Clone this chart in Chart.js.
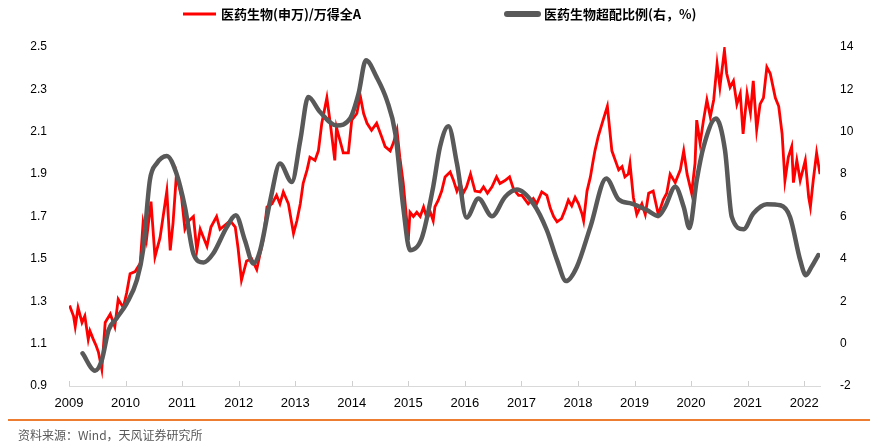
<!DOCTYPE html>
<html>
<head>
<meta charset="utf-8">
<script src="https://cdn.jsdelivr.net/npm/chart.js@4.4.1/dist/chart.umd.min.js"></script>
<style>
  body { margin: 0; background: #fff; }
  #wrap { position: relative; width: 877px; height: 448px; }
  #rule { position: absolute; left: 8px; top: 419px; width: 862px; height: 0; border-top: 2px solid #ED7D31; }
  #source { position: absolute; left: 18px; top: 426px; font: 12px "Noto Sans CJK SC", "Liberation Sans", sans-serif; color: #595959; }
</style>
</head>
<body>
<div id="wrap">
  <canvas id="chart0" width="877" height="448"></canvas>
  <div id="rule"></div>
  <div id="source">资料来源：Wind，天风证券研究所</div>
</div>
<script>
document.addEventListener("DOMContentLoaded", function() {
  // x axis years
  var yearTicks = [2009, 2010, 2011, 2012, 2013, 2014, 2015, 2016, 2017, 2018, 2019, 2020, 2021, 2022];

  // 医药生物(申万)/万得全A  (left axis)
  var ratioYears = [2009.01,2009.08,2009.11,2009.16,2009.23,2009.28,2009.34,2009.37,2009.43,2009.48,2009.52,2009.58,2009.64,2009.73,2009.81,2009.87,2009.96,
    2010.02,2010.08,2010.17,2010.26,2010.31,2010.37,2010.45,2010.52,2010.61,2010.73,2010.79,2010.84,2010.9,2010.99,
    2011.05,2011.12,2011.2,2011.26,2011.32,2011.44,2011.51,2011.61,2011.67,2011.76,2011.85,2011.94,2011.99,
    2012.05,2012.14,2012.23,2012.32,2012.44,2012.5,2012.59,2012.67,2012.73,2012.79,2012.88,2012.97,
    2013.03,2013.09,2013.14,2013.21,2013.26,2013.35,2013.41,2013.47,2013.56,2013.62,2013.7,2013.73,2013.79,2013.85,2013.94,
    2014.0,2014.09,2014.15,2014.21,2014.27,2014.35,2014.44,2014.53,2014.59,2014.68,2014.74,2014.8,2014.85,2014.91,2014.98,
    2015.0,2015.03,2015.09,2015.15,2015.21,2015.27,2015.33,2015.39,2015.44,2015.47,2015.53,2015.59,2015.65,2015.74,2015.8,2015.86,2015.92,2015.97,
    2016.03,2016.1,2016.18,2016.27,2016.33,2016.4,2016.48,2016.56,2016.62,2016.71,2016.79,2016.86,2016.95,
    2017.01,2017.12,2017.21,2017.27,2017.36,2017.45,2017.51,2017.57,2017.63,2017.71,2017.77,2017.83,2017.89,2017.95,
    2018.01,2018.07,2018.1,2018.16,2018.22,2018.26,2018.3,2018.36,2018.45,2018.52,2018.6,2018.66,2018.72,2018.78,2018.83,2018.89,2018.92,2018.98,
    2019.04,2019.13,2019.19,2019.25,2019.33,2019.42,2019.51,2019.57,2019.63,2019.72,2019.81,2019.87,2019.93,
    2020.01,2020.07,2020.1,2020.16,2020.22,2020.28,2020.34,2020.4,2020.46,2020.51,2020.59,2020.63,2020.69,2020.75,2020.81,2020.87,2020.92,2020.99,
    2021.05,2021.1,2021.16,2021.22,2021.28,2021.34,2021.4,2021.49,2021.55,2021.61,2021.66,2021.72,2021.78,2021.81,2021.87,2021.93,
    2022.02,2022.08,2022.11,2022.16,2022.22,2022.28];
  var ratioValues = [1.28,1.23,1.18,1.27,1.20,1.23,1.12,1.16,1.12,1.09,1.06,0.98,1.20,1.24,1.18,1.31,1.27,
    1.34,1.43,1.44,1.48,1.67,1.59,1.77,1.51,1.60,1.82,1.54,1.67,1.90,1.79,
    1.64,1.68,1.70,1.54,1.64,1.56,1.65,1.70,1.64,1.66,1.68,1.65,1.55,
    1.40,1.49,1.50,1.45,1.60,1.745,1.76,1.80,1.76,1.816,1.76,1.62,
    1.68,1.76,1.856,1.92,1.98,1.965,2.01,2.14,2.26,2.14,1.965,2.12,2.06,2.00,2.00,
    2.155,2.186,2.27,2.186,2.14,2.107,2.14,2.075,2.03,2.01,2.05,2.107,1.98,1.86,1.66,
    1.59,1.72,1.70,1.72,1.70,1.745,1.69,1.72,1.68,1.745,1.777,1.82,1.887,1.91,1.87,1.82,1.856,1.81,
    1.84,1.90,1.82,1.816,1.84,1.81,1.84,1.887,1.856,1.87,1.887,1.83,1.80,
    1.80,1.76,1.785,1.76,1.816,1.80,1.74,1.70,1.675,1.69,1.73,1.777,1.75,1.79,
    1.76,1.714,1.68,1.82,1.887,1.95,2.01,2.08,2.16,2.22,2.01,1.965,1.92,1.935,1.887,1.90,1.95,1.79,
    1.71,1.76,1.71,1.81,1.82,1.71,1.78,1.81,1.90,1.86,1.92,2.01,1.90,
    1.81,1.95,2.155,2.045,2.155,2.25,2.17,2.25,2.42,2.31,2.485,2.375,2.31,2.34,2.23,2.28,2.09,2.28,
    2.19,2.34,2.11,2.23,2.26,2.405,2.375,2.26,2.22,2.09,1.87,1.98,2.03,1.86,1.965,1.87,
    1.965,1.79,1.745,1.87,2.00,1.90];

  // 医药生物超配比例(右，%)  (right axis)
  var overweightYears = [2009.24,2009.46,2009.58,2009.7,2009.84,2010.02,2010.2,2010.31,2010.43,2010.55,2010.73,2010.9,
    2011.05,2011.2,2011.38,2011.55,2011.79,2011.95,2012.11,2012.26,2012.38,2012.56,2012.73,2012.94,
    2013.09,2013.23,2013.44,2013.73,2013.97,2014.12,2014.25,2014.44,2014.62,2014.77,2014.91,
    2015.03,2015.24,2015.44,2015.56,2015.71,2015.86,2016.03,2016.24,2016.48,2016.71,2016.92,
    2017.21,2017.45,2017.63,2017.79,2017.98,2018.22,2018.5,2018.72,2018.95,2019.22,2019.42,2019.54,2019.72,2019.87,2019.97,
    2020.1,2020.22,2020.44,2020.6,2020.72,2020.93,2021.1,2021.34,2021.58,2021.75,2021.93,2022.03,2022.13,2022.25];
  var overweightValues = [-0.46,-1.28,-0.78,0.64,1.19,1.90,3.0,4.41,7.71,8.5,8.86,8.03,
    6.45,4.25,3.83,4.25,5.5,6.06,4.88,3.78,4.4,6.77,8.5,7.63,
    9.6,11.64,10.93,10.3,10.62,11.8,13.37,12.58,11.49,9.92,6.45,
    4.41,5.0,7.4,9.28,10.26,8.5,5.95,6.85,6.01,6.92,7.27,
    6.61,5.35,3.94,2.95,3.62,5.51,7.79,6.8,6.61,6.30,6.03,6.45,7.4,6.45,5.46,
    7.71,9.28,10.62,9.13,5.98,5.40,6.14,6.58,6.53,5.98,3.94,3.23,3.62,4.18];

  var ratioLabel = "医药生物(申万)/万得全A";
  var overweightLabel = "医药生物超配比例(右，%)";

  var ratioPoints = ratioYears.map(function(x, i) { return { x: x, y: ratioValues[i] }; });
  var overweightPoints = overweightYears.map(function(x, i) { return { x: x, y: overweightValues[i] }; });

  var tickFont = { family: "'Liberation Sans', Arial, sans-serif", size: 12 };

  // legend drawn at the top, spaced like the original
  var legendPlugin = {
    id: "topLegend",
    afterDraw: function(chart) {
      var ctx = chart.ctx;
      ctx.save();
      ctx.lineCap = "butt";
      ctx.strokeStyle = "#FF0000";
      ctx.lineWidth = 3;
      ctx.beginPath();
      ctx.moveTo(183, 14);
      ctx.lineTo(216, 14);
      ctx.stroke();
      ctx.lineCap = "round";
      ctx.strokeStyle = "#595959";
      ctx.lineWidth = 6;
      ctx.beginPath();
      ctx.moveTo(507, 14);
      ctx.lineTo(538, 14);
      ctx.stroke();
      ctx.fillStyle = "#000";
      ctx.font = "bold 13px 'Noto Sans CJK SC', sans-serif";
      ctx.textBaseline = "middle";
      ctx.fillText(ratioLabel, 221, 14);
      ctx.fillText(overweightLabel, 544, 14);
      ctx.restore();
    }
  };

  // small year ticks pointing up from the x axis line
  var innerTicks = {
    id: "innerTicks",
    afterDraw: function(chart) {
      var ctx = chart.ctx;
      var xs = chart.scales.x;
      var bottom = chart.chartArea.bottom;
      ctx.save();
      ctx.strokeStyle = "#cfcfcf";
      ctx.lineWidth = 1;
      yearTicks.forEach(function(v) {
        var px = Math.round(xs.getPixelForValue(v)) + 0.5;
        ctx.beginPath();
        ctx.moveTo(px, bottom);
        ctx.lineTo(px, bottom - 5);
        ctx.stroke();
      });
      ctx.restore();
    }
  };

  var chart0 = new Chart(document.getElementById("chart0").getContext("2d"), {
    type: "line",
    data: {
      datasets: [
        {
          label: ratioLabel,
          data: ratioPoints,
          yAxisID: "y",
          borderColor: "#FF0000",
          backgroundColor: "#FF0000",
          borderWidth: 2.8,
          pointRadius: 0,
          tension: 0,
          order: 2
        },
        {
          label: overweightLabel,
          data: overweightPoints,
          yAxisID: "y1",
          borderColor: "#595959",
          backgroundColor: "#595959",
          borderWidth: 4.5,
          pointRadius: 0,
          cubicInterpolationMode: "monotone",
          borderCapStyle: "round",
          order: 1
        }
      ]
    },
    options: {
      responsive: false,
      animation: false,
      layout: { padding: { top: 47, left: 0, right: 0, bottom: 0 } },
      plugins: { legend: { display: false }, tooltip: { enabled: false } },
      scales: {
        x: {
          type: "linear",
          min: 2009,
          max: 2022.28,
          afterBuildTicks: function(scale) {
            scale.ticks = yearTicks.map(function(v) { return { value: v }; });
          },
          afterFit: function(scale) { scale.height = 62; },
          ticks: {
            autoSkip: false,
            maxRotation: 0,
            padding: 2,
            color: "#000",
            font: { family: "'Liberation Sans', Arial, sans-serif", size: 13 },
            callback: function(v) { return String(v); }
          },
          grid: { display: false },
          border: { display: true, color: "#d9d9d9" }
        },
        y: {
          position: "left",
          min: 0.9,
          max: 2.5,
          afterFit: function(scale) { scale.width = 69; },
          ticks: {
            stepSize: 0.2,
            padding: 14,
            color: "#000",
            font: tickFont,
            callback: function(v) { return Number(v).toFixed(1); }
          },
          grid: { display: false },
          border: { display: false }
        },
        y1: {
          position: "right",
          min: -2,
          max: 14,
          afterFit: function(scale) { scale.width = 57; },
          ticks: {
            stepSize: 2,
            padding: 12,
            color: "#000",
            font: tickFont
          },
          grid: { display: false },
          border: { display: false }
        }
      }
    },
    plugins: [legendPlugin, innerTicks]
  });
});
</script>
</body>
</html>
